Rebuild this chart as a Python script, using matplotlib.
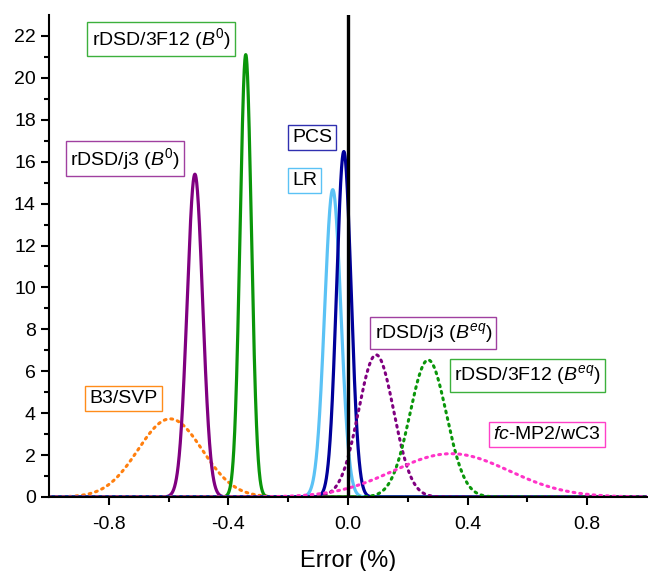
import numpy as np
import matplotlib
matplotlib.use("Agg")
import matplotlib.pyplot as plt

plt.rcParams['font.family'] = ['Liberation Sans', 'DejaVu Sans']
plt.rcParams['mathtext.fontset'] = 'custom'
plt.rcParams['mathtext.rm'] = 'Liberation Sans'
plt.rcParams['mathtext.it'] = 'Liberation Sans:italic'

# Gaussian error distributions (mean, standard deviation), in %
names = ['B3/SVP', 'rDSD/j3 B0', 'rDSD/3F12 B0', 'LR', 'PCS',
         'rDSD/j3 Beq', 'rDSD/3F12 Beq', 'fc-MP2/wC3']
means = [-0.595, -0.512, -0.342, -0.051, -0.014, 0.094, 0.268, 0.345]
sds = [0.107, 0.0259, 0.0189, 0.0272, 0.0242, 0.0588, 0.0610, 0.193]
colors = ['#ff7f0e', '#800080', '#0a960a', '#5bc2f5', '#00009a',
          '#800080', '#0a960a', '#ff33c8']
styles = [':', '-', '-', '-', '-', ':', ':', ':']

labels = ['B3/SVP', r'rDSD/j3 ($\mathit{B^{0}}$)', r'rDSD/3F12 ($\mathit{B^{0}}$)',
          'LR', 'PCS', r'rDSD/j3 ($\mathit{B^{eq}}$)', r'rDSD/3F12 ($\mathit{B^{eq}}$)',
          r'$\mathit{fc}$-MP2/wC3']
label_x = [-0.75, -0.745, -0.625, -0.145, -0.12, 0.285, 0.6, 0.666]
label_y = [4.7, 16.15, 21.85, 15.1, 17.15, 7.82, 5.8, 2.99]
edge_colors = ['#ff8c1a', '#a040a0', '#3cb03c', '#5bc2f5', '#3030b0',
               '#a040a0', '#3cb03c', '#ff40c8']

x_ticks = [-0.8, -0.4, 0.0, 0.4, 0.8]
y_ticks = list(range(0, 23, 2))

fig = plt.figure(figsize=(6.48, 5.71), dpi=100)
ax = fig.add_axes([0.0756, 0.1296, 0.9229, 0.8441])

x = np.linspace(-1, 1, 4001)
for m, s, c, ls in zip(means, sds, colors, styles):
    y = np.exp(-0.5 * ((x - m) / s) ** 2) / (s * np.sqrt(2 * np.pi))
    if ls == ':':
        ax.plot(x, y, color=c, lw=2.2, linestyle=(0, (0.6, 1.6)), dash_capstyle='round')
    else:
        ax.plot(x, y, color=c, lw=2.3, linestyle='-')

ax.axvline(0, color='black', lw=2.4, zorder=5)

for t, lx, ly, ec in zip(labels, label_x, label_y, edge_colors):
    ax.text(lx, ly, t, fontsize=14, ha='center', va='center', zorder=6,
            bbox=dict(boxstyle='square,pad=0.22', fc='white', ec=ec, lw=1.0))

ax.set_xlim(-1, 1)
ax.set_ylim(0, 23)
ax.set_xticks(x_ticks)
ax.set_xticklabels(['-0.8', '-0.4', '0.0', '0.4', '0.8'])
ax.set_xticks([-0.6, -0.2, 0.2, 0.6], minor=True)
ax.set_yticks(y_ticks)
ax.set_yticks(range(1, 23, 2), minor=True)
ax.tick_params(which='major', direction='out', length=6, width=1.5, labelsize=14)
ax.tick_params(axis='x', which='major', pad=8)
ax.tick_params(which='minor', direction='out', length=3.5, width=1.5)
ax.spines['top'].set_visible(False)
ax.spines['right'].set_visible(False)
ax.spines['left'].set_linewidth(1.5)
ax.spines['bottom'].set_linewidth(1.5)
ax.set_xlabel('Error (%)', fontsize=17, labelpad=12)

fig.savefig('out.png', dpi=100)
